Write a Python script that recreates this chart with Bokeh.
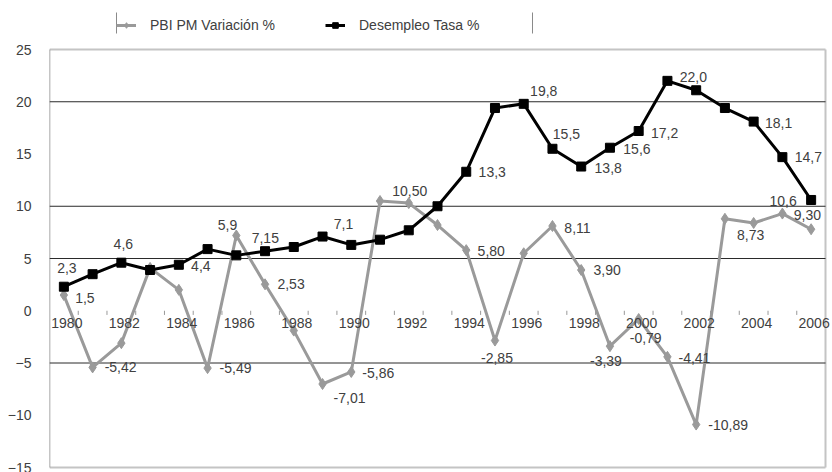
from bokeh.plotting import figure
from bokeh.models import ColumnDataSource, Range1d, Legend, FixedTicker, LabelSet
from bokeh.core.properties import value
from bokeh.embed import file_html
from bokeh.resources import INLINE

# ---------------- data ----------------
years = list(range(1980, 2007))
desempleo = [2.3, 3.5, 4.6, 3.9, 4.4, 5.9, 5.3, 5.7, 6.1, 7.1, 6.3, 6.8, 7.7, 10.0,
             13.3, 19.4, 19.8, 15.5, 13.8, 15.6, 17.2, 22.0, 21.1, 19.4, 18.1, 14.7, 10.6]
pbi = [1.5, -5.42, -3.1, 4.1, 2.0, -5.49, 7.2, 2.53, -1.9, -7.01, -5.86, 10.5, 10.3, 8.2,
       5.80, -2.85, 5.5, 8.11, 3.90, -3.39, -0.79, -4.41, -10.89, 8.8, 8.4, 9.3, 7.8]

des_label_years = [1980, 1982, 1984, 1985, 1989, 1994, 1996, 1997, 1998, 1999, 2000,
                   2001, 2004, 2005, 2006]
des_label_text = ["2,3", "4,6", "4,4", "5,9", "7,1", "13,3", "19,8", "15,5", "13,8",
                  "15,6", "17,2", "22,0", "18,1", "14,7", "10,6"]
pbi_label_years = [1980, 1981, 1985, 1986, 1987, 1989, 1990, 1992, 1994, 1995, 1997,
                   1998, 1999, 2000, 2001, 2002, 2004, 2005]
pbi_label_text = ["1,5", "-5,42", "-5,49", "7,15", "2,53", "-7,01", "-5,86", "10,50",
                  "5,80", "-2,85", "8,11", "3,90", "-3,39", "-0,79", "-4,41", "-10,89",
                  "8,73", "9,30"]

year_label_years = list(range(1980, 2007, 2))
year_tick_labels = [str(y) for y in year_label_years]
y_ticks = [-15, -10, -5, 0, 5, 10, 15, 20, 25]
ruled_lines = [20, 10, 5, -5]

# ---------------- layout / label placement ----------------
des_dx = [3, 2, 22, 20, 21, 26, 20, 14, 27, 27, 26, 26, 25, 26, -28]
des_dy = [-19, -19, 1, -24, -13, 0, -13, -15, 1, 1, 2, -4, 1, 0, 1]
pbi_dx = [21, 28, 28, 29, 26, 27, 27, 1, 25, 2, 25, 26, -4, 7, 27, 32, -3, 25]
pbi_dy = [3, 0, 0, 2, 0, 14, 1, -12, 1, 17, 2, 0, 15, 19, 1, 0, 12, 1]

W, H = 832, 472
LEFT = 49                      # plot area left edge (px)
AREA_TOP, AREA_BOT, AREA_RIGHT = 49, 467, 825
XMIN, XMAX = 1979.5, 2006.5    # category band edges
YMIN, YMAX = -15, 25
pxx = (AREA_RIGHT - LEFT) / (XMAX - XMIN)
pxy = (AREA_BOT - AREA_TOP) / (YMAX - YMIN)
x_range = Range1d(XMIN, XMAX + (W - AREA_RIGHT) / pxx)
y_range = Range1d(YMIN - (H - AREA_BOT) / pxy, YMAX + AREA_TOP / pxy)


def dx_px(px):   # canvas px -> data x
    return XMIN + (px - LEFT) / pxx


def dy_px(py):   # canvas px -> data y
    return YMAX + (AREA_TOP - py) / pxy


LEG_L, LEG_R, LEG_T, LEG_B = 116, 532, 12, 33   # legend frame (px)

FONT = "Liberation Sans"
TXT = "#404040"
GRAY = "#9a9a9a"

p = figure(width=W, height=H, output_backend="svg", toolbar_location=None,
           x_range=x_range, y_range=y_range,
           min_border_left=LEFT, min_border_right=0, min_border_top=0,
           min_border_bottom=0)
p.xaxis.visible = False
p.xgrid.visible = False
p.ygrid.visible = False
p.outline_line_color = None

ya = p.yaxis[0]
ya.ticker = FixedTicker(ticks=y_ticks)
ya.major_tick_out = 0
ya.major_tick_in = 0
ya.minor_tick_out = 0
ya.minor_tick_in = 0
ya.axis_line_color = None
ya.major_label_standoff = 18
ya.major_label_text_font = FONT
ya.major_label_text_font_size = "14px"
ya.major_label_text_color = TXT

# plot-area frame
p.segment(x0=[XMIN, XMAX, XMIN], y0=[YMAX, YMIN, YMIN], x1=[XMAX, XMAX, XMAX],
          y1=[YMAX, YMAX, YMIN], line_color="#c4c4c4", line_width=2)
p.segment(x0=[XMIN], y0=[YMIN], x1=[XMIN], y1=[YMAX], line_color="#8c8c8c",
          line_width=1.5)
# ruled lines
p.segment(x0=[XMIN] * len(ruled_lines), y0=ruled_lines, x1=[XMAX] * len(ruled_lines),
          y1=ruled_lines, line_color="#2a2a2a", line_width=1)

# category ticks on the zero line
tick_x = [y + 0.5 for y in years[:-1]]
p.segment(x0=tick_x, y0=[0] * len(tick_x), x1=tick_x, y1=[-0.4] * len(tick_x),
          line_color="#999999", line_width=1)

ysrc = ColumnDataSource(dict(x=year_label_years, y=[0] * len(year_label_years),
                             t=year_tick_labels))
p.add_layout(LabelSet(x="x", y="y", text="t", source=ysrc, x_offset=3, y_offset=-12,
                      text_align="center", text_baseline="middle",
                      text_font=value(FONT), text_font_size=value("14px"),
                      text_color=TXT))

src = ColumnDataSource(dict(x=years, des=desempleo, pbi=pbi))
r1 = p.line("x", "pbi", source=src, line_color=GRAY, line_width=3)
r2 = p.scatter("x", "pbi", source=src, marker="diamond", size=11, fill_color=GRAY,
               line_color=GRAY)
r3 = p.line("x", "des", source=src, line_color="black", line_width=3)
r4 = p.scatter("x", "des", source=src, marker="square", size=9, fill_color="black",
               line_color="black")

dmap = dict(zip(years, desempleo))
pmap = dict(zip(years, pbi))
dl = ColumnDataSource(dict(x=des_label_years, y=[dmap[y] for y in des_label_years],
                           t=des_label_text, dx=des_dx, dy=[-d for d in des_dy]))
pl = ColumnDataSource(dict(x=pbi_label_years, y=[pmap[y] for y in pbi_label_years],
                           t=pbi_label_text, dx=pbi_dx, dy=[-d for d in pbi_dy]))
for s in (dl, pl):
    p.add_layout(LabelSet(x="x", y="y", text="t", x_offset="dx", y_offset="dy", source=s,
                          text_align="center", text_baseline="middle",
                          text_font=value(FONT), text_font_size=value("14px"),
                          text_color=TXT))

# legend side bars
p.segment(x0=[dx_px(LEG_L), dx_px(LEG_R)], y0=[dy_px(LEG_T)] * 2,
          x1=[dx_px(LEG_L), dx_px(LEG_R)], y1=[dy_px(LEG_B)] * 2,
          line_color="#8a8a8a", line_width=1)

legend = Legend(items=[("PBI PM Variación %", [r1, r2]), ("Desempleo Tasa %", [r3, r4])],
                orientation="horizontal", location=(LEG_L - LEFT, H - LEG_B),
                label_text_font=FONT, label_text_font_size="14px", label_text_color=TXT,
                glyph_width=20, glyph_height=14, label_height=14, label_width=166,
                label_standoff=14, spacing=9, padding=4, margin=0,
                border_line_color=None, background_fill_alpha=0)
p.add_layout(legend, "center")

open("out.html", "w").write(file_html(p, INLINE))
